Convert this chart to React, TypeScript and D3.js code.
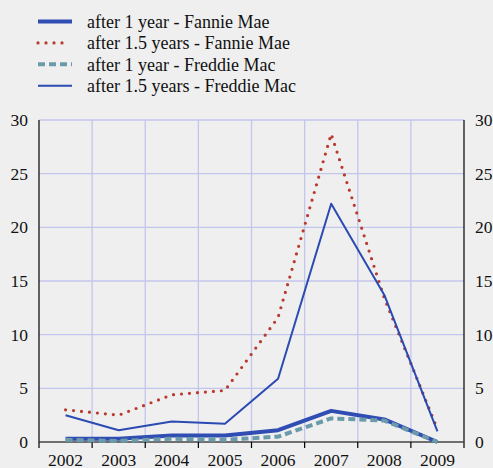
import React from "react";
import * as d3 from "d3";

const years = ["2002", "2003", "2004", "2005", "2006", "2007", "2008", "2009"];
const fannie1y = [0.3, 0.3, 0.6, 0.6, 1.1, 2.9, 2.1, 0.0];
const fannie15y = [3.0, 2.5, 4.4, 4.8, 11.6, 28.7, 13.4, 1.2];
const freddie1y = [0.2, 0.1, 0.3, 0.2, 0.5, 2.2, 2.0, 0.0];
const freddie15y = [2.5, 1.1, 1.9, 1.7, 5.9, 22.2, 13.7, 1.0];
const yTicks = [0, 5, 10, 15, 20, 25, 30];

const seriesList = [
  { name: "after 1 year - Fannie Mae", values: fannie1y, color: "#2f4db3", width: 4, dash: undefined, cap: "butt" },
  { name: "after 1.5 years - Fannie Mae", values: fannie15y, color: "#b8392e", width: 3.2, dash: "0,8", cap: "round" },
  { name: "after 1 year - Freddie Mac", values: freddie1y, color: "#6b9aaa", width: 4, dash: "7,4", cap: "butt" },
  { name: "after 1.5 years - Freddie Mac", values: freddie15y, color: "#2b4ab2", width: 2, dash: undefined, cap: "butt" },
];

const width = 493;
const height = 468;
const margin = { top: 120, right: 29, bottom: 26, left: 39 };
const innerWidth = width - margin.left - margin.right;
const innerHeight = height - margin.top - margin.bottom;
const font = "Liberation Serif, Times New Roman, serif";
const grid = "#c3c6ec";

export default function App() {
  const x = d3.scaleBand().domain(years).range([0, innerWidth]);
  const y = d3.scaleLinear().domain([0, 30]).range([innerHeight, 0]);
  const cx = (i: number) => x(years[i])! + x.bandwidth() / 2;
  const line = d3.line<number>().x((_, i) => cx(i)).y(d => y(d));

  return (
    <svg width={width} height={height} fontFamily={font} style={{ position: "absolute", left: 0, top: 0 }}>
      <rect width={width} height={height} fill="#efefef" />
      <g transform={`translate(${margin.left},${margin.top})`}>
        {yTicks.filter(d => d > 0).map(d => (
          <line key={"h" + d} x1={0} x2={innerWidth} y1={y(d)} y2={y(d)} stroke={grid} strokeWidth={1.3} />
        ))}
        {years.slice(1).map(d => (
          <line key={"v" + d} x1={x(d)} x2={x(d)} y1={0} y2={innerHeight} stroke={grid} strokeWidth={1.3} />
        ))}
        <line x1={0} x2={0} y1={0} y2={innerHeight} stroke="#000" strokeWidth={1.2} />
        <line x1={innerWidth} x2={innerWidth} y1={0} y2={innerHeight + 6} stroke="#000" strokeWidth={1.2} />
        <line x1={0} x2={innerWidth} y1={innerHeight} y2={innerHeight} stroke="#444" strokeWidth={1.5} />
        {years.map(d => (
          <line key={"t" + d} x1={x(d)} x2={x(d)} y1={innerHeight} y2={innerHeight + 6} stroke="#000" strokeWidth={1.2} />
        ))}
        {yTicks.map(d => (
          <text key={"yl" + d} x={-11} y={y(d)} dy="0.35em" textAnchor="end" fontSize={17.5} fill="#111">{d}</text>
        ))}
        {yTicks.map(d => (
          <text key={"yr" + d} x={innerWidth + 11} y={y(d)} dy="0.35em" textAnchor="start" fontSize={17.5} fill="#111">{d}</text>
        ))}
        {years.map(d => (
          <text key={"xl" + d} x={x(d)! + x.bandwidth() / 2} y={innerHeight + 23.5} textAnchor="middle" fontSize={17.5} fill="#111">{d}</text>
        ))}
        {seriesList.map(s => (
          <path key={s.name} d={line(s.values)!} fill="none" stroke={s.color} strokeWidth={s.width}
            strokeDasharray={s.dash} strokeLinecap={s.cap as any} strokeLinejoin="round" />
        ))}
      </g>
      {seriesList.map((s, i) => {
        const ly = 21.5 + i * 21.4;
        return (
          <g key={"lg" + i}>
            <line x1={38} x2={s.dash === "0,8" ? 68 : 72} y1={ly} y2={ly} stroke={s.color} strokeWidth={s.width}
              strokeDasharray={s.dash} strokeLinecap={s.cap as any} />
            <text x={87} y={ly} dy="0.35em" fontSize={18} fill="#111">{s.name}</text>
          </g>
        );
      })}
    </svg>
  );
}
